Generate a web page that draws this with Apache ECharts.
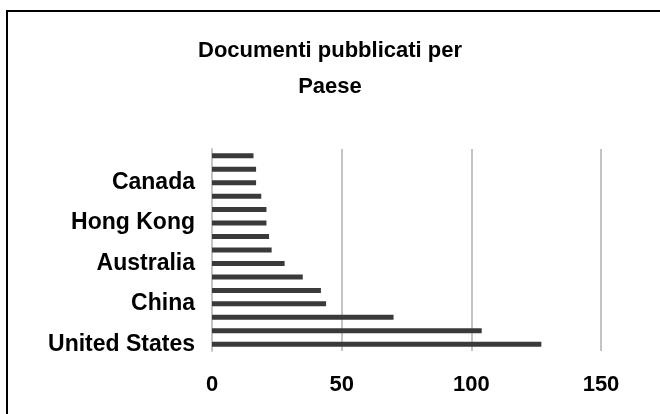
<!DOCTYPE html>
<html>
<head>
<meta charset="utf-8">
<script src="https://cdn.jsdelivr.net/npm/echarts@6/dist/echarts.min.js"></script>
<style>
  html, body { margin: 0; padding: 0; background: #fff; }
  #chart { width: 660px; height: 414px; }
</style>
</head>
<body>
<div id="chart"></div>
<script>
// categories from bottom to top (category axis starts at bottom)
const countries = [
  'United States', 'United Kingdom', 'Germany', 'China', 'Italy',
  'Spain', 'Australia', 'France', 'Japan', 'Hong Kong',
  'Netherlands', 'South Korea', 'Canada', 'Taiwan', 'Switzerland'
];
const documents = [127, 104, 70, 44, 42, 35, 28, 23, 22, 21, 21, 19, 17, 17, 16];
const xTicks = [0, 50, 100, 150];

const chart = echarts.init(document.getElementById('chart'));
const font = 'Liberation Sans, Arial, Helvetica, sans-serif';

chart.setOption({
  backgroundColor: '#fff',
  animation: false,
  title: {
    text: 'Documenti pubblicati per\nPaese',
    left: 'center',
    top: 28,
    textStyle: {
      fontFamily: font,
      fontSize: 22,
      fontWeight: 'bold',
      color: '#000',
      lineHeight: 36
    }
  },
  graphic: [{
    type: 'rect',
    shape: { x: 7, y: 11, width: 700, height: 500 },
    style: { fill: 'none', stroke: '#000', lineWidth: 2 },
    silent: true
  }],
  grid: { left: 212, right: 59, top: 149, bottom: 63 },
  xAxis: {
    type: 'value',
    min: xTicks[0],
    max: xTicks[xTicks.length - 1],
    interval: 50,
    axisLine: { show: false },
    axisTick: { show: false },
    splitLine: { lineStyle: { color: '#c4c4c4', width: 2 } },
    axisLabel: {
      margin: 23,
      fontFamily: font,
      fontSize: 22,
      fontWeight: 'bold',
      color: '#000'
    }
  },
  yAxis: {
    type: 'category',
    data: countries,
    axisLine: { show: true, lineStyle: { color: '#c4c4c4', width: 2 } },
    axisTick: { show: false },
    axisLabel: {
      interval: 2,
      margin: 17,
      fontFamily: font,
      fontSize: 23,
      fontWeight: 'bold',
      color: '#000'
    }
  },
  series: [{
    type: 'bar',
    data: documents,
    barWidth: 5,
    itemStyle: { color: '#3a3a3a' }
  }]
});
</script>
</body>
</html>
